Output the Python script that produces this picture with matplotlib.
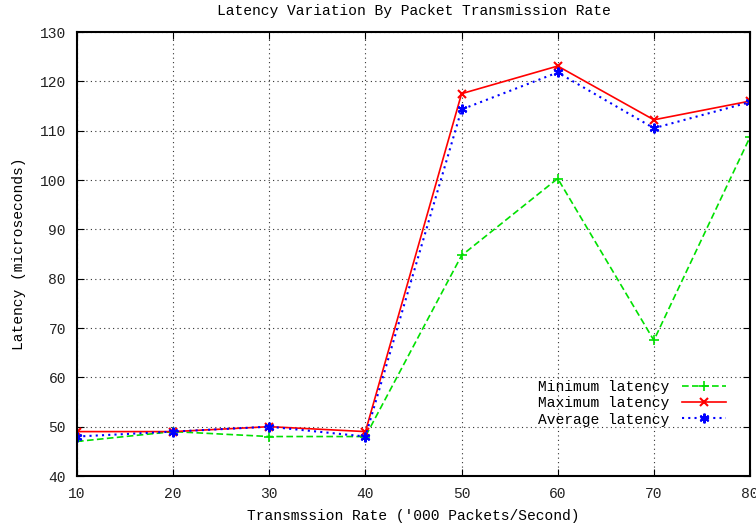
import matplotlib.pyplot as plt

plt.rcParams['font.family'] = ['Liberation Mono', 'DejaVu Sans Mono']
plt.rcParams['font.size'] = 10.5

rates = [10, 20, 30, 40, 50, 60, 70, 80]
min_latency = [47, 49, 48, 48, 84.7, 100.3, 67.5, 108.7]
max_latency = [49, 49, 50, 49, 117.5, 123.1, 112.2, 116.0]
avg_latency = [48, 49, 50, 48, 114.3, 121.8, 110.5, 115.8]

fig = plt.figure(figsize=(7.56, 5.27), dpi=100)
ax = fig.add_axes([77 / 756, 51 / 527, 673 / 756, 444 / 527])

ax.plot(rates, min_latency, color='#00e000', linestyle=(0, (4, 2)), linewidth=1.2,
        marker='+', markersize=7, markeredgewidth=1.2, label='Minimum latency')
ax.plot(rates, max_latency, color='#ff0000', linestyle='-', linewidth=1.2,
        marker='x', markersize=6, markeredgewidth=1.5, label='Maximum latency')
ax.plot(rates, avg_latency, color='#0000ff', linestyle=(0, (1, 2)), linewidth=1.5,
        marker=(6, 2, 0), markersize=7, markeredgewidth=1.5, label='Average latency')

ax.set_xlim(10, 80)
ax.set_ylim(40, 130)
ax.set_xticks(rates)
ax.set_yticks(range(40, 131, 10))
ax.grid(True, color='#333333', linestyle=(0, (1, 3)), linewidth=0.8)
ax.tick_params(direction='in', top=True, right=True, length=5, pad=8, labelcolor='#222222')
for s in ax.spines.values():
    s.set_linewidth(1.5)

ax.set_title('Latency Variation By Packet Transmission Rate', fontsize=10.5, pad=12)
ax.set_xlabel("Transmssion Rate ('000 Packets/Second)", labelpad=6)
ax.set_ylabel('Latency (microseconds)', labelpad=10)

ax.legend(loc='lower right', bbox_to_anchor=(0.975, 0.095), frameon=False, markerfirst=False,
          handlelength=3, labelspacing=0.15, borderpad=0, handletextpad=0.9)

fig.savefig('out.png', dpi=100)
